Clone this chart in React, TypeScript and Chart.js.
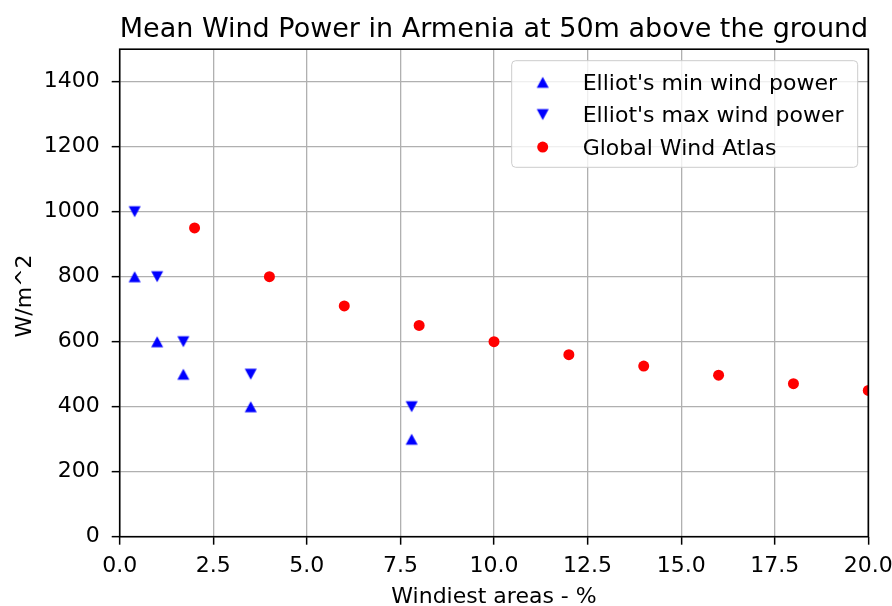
import React, { useEffect, useRef } from "react";
import { Chart, registerables } from "chart.js";

Chart.register(...registerables);

// ---- data ----
const elliotPct = [0.4, 1.0, 1.7, 3.5, 7.8];
const elliotMin = [800, 600, 500, 400, 300];
const elliotMax = [1000, 800, 600, 500, 400];
const gwaPct = [2, 4, 6, 8, 10, 12, 14, 16, 18, 20];
const gwaPower = [950, 800, 710, 650, 600, 560, 525, 497, 471, 450];
const seriesNames = ["Elliot's min wind power", "Elliot's max wind power", "Global Wind Atlas"];
const titleText = "Mean Wind Power in Armenia at 50m above the ground";
const xLabel = "Windiest areas - %";
const yLabel = "W/m^2";

const W = 892;
const H = 606;
const FONT = "DejaVu Sans";
const BLUE = "#0000ff";
const RED = "#ff0000";

function makeTriangle(up: boolean, color: string): HTMLCanvasElement {
  const c = document.createElement("canvas");
  c.width = 14;
  c.height = 14;
  const ctx = c.getContext("2d")!;
  ctx.fillStyle = color;
  ctx.beginPath();
  if (up) {
    ctx.moveTo(7, 1.5);
    ctx.lineTo(13, 12.5);
    ctx.lineTo(1, 12.5);
  } else {
    ctx.moveTo(7, 12.5);
    ctx.lineTo(13, 1.5);
    ctx.lineTo(1, 1.5);
  }
  ctx.closePath();
  ctx.fill();
  return c;
}

export default function App() {
  const ref = useRef<HTMLCanvasElement | null>(null);

  useEffect(() => {
    if (!ref.current) return;
    const triUp = makeTriangle(true, BLUE);
    const triDown = makeTriangle(false, BLUE);

    const decor = {
      id: "decor",
      afterDatasetsDraw(chart: any) {
        const { ctx, chartArea } = chart;
        const { left, right, top, bottom } = chartArea;
        ctx.save();
        // spines
        ctx.strokeStyle = "#000";
        ctx.lineWidth = 1.6;
        ctx.strokeRect(left, top, right - left, bottom - top);

        // legend
        const lx = 511.7, ly = 60.7, lw = 346, lh = 106.6;
        ctx.beginPath();
        ctx.roundRect(lx, ly, lw, lh, 4);
        ctx.fillStyle = "rgba(255,255,255,0.8)";
        ctx.fill();
        ctx.strokeStyle = "#cccccc";
        ctx.lineWidth = 1;
        ctx.stroke();

        const baselines = [90, 122.3, 154.8];
        const mx = 542.7;
        ctx.font = `22px "${FONT}"`;
        ctx.textAlign = "left";
        ctx.textBaseline = "alphabetic";
        baselines.forEach((b, i) => {
          const cy = b - 7.7;
          if (i === 0) ctx.drawImage(triUp, mx - 7, cy - 7);
          else if (i === 1) ctx.drawImage(triDown, mx - 7, cy - 7);
          else {
            ctx.beginPath();
            ctx.arc(mx, cy, 5.5, 0, Math.PI * 2);
            ctx.fillStyle = RED;
            ctx.fill();
          }
          ctx.fillStyle = "#000";
          ctx.fillText(seriesNames[i], 582.7, b);
        });

        // title
        const cx = (left + right) / 2;
        ctx.font = `27px "${FONT}"`;
        ctx.textAlign = "center";
        ctx.fillStyle = "#000";
        ctx.fillText(titleText, cx, 37.3);

        // axis labels
        ctx.font = `22px "${FONT}"`;
        ctx.fillText(xLabel, cx, 603);
        ctx.save();
        ctx.translate(31, (top + bottom) / 2 + 3);
        ctx.rotate(-Math.PI / 2);
        ctx.textAlign = "center";
        ctx.fillText(yLabel, 0, 0);
        ctx.restore();
        ctx.restore();
      },
    };

    const chart = new Chart(ref.current, {
      type: "scatter",
      data: {
        datasets: [
          {
            label: seriesNames[0],
            data: elliotPct.map((x, i) => ({ x, y: elliotMin[i] })),
            pointStyle: triUp as any,
            backgroundColor: BLUE,
            borderWidth: 0,
            clip: 0 as any,
          },
          {
            label: seriesNames[1],
            data: elliotPct.map((x, i) => ({ x, y: elliotMax[i] })),
            pointStyle: triDown as any,
            backgroundColor: BLUE,
            borderWidth: 0,
            clip: 0 as any,
          },
          {
            label: seriesNames[2],
            data: gwaPct.map((x, i) => ({ x, y: gwaPower[i] })),
            pointStyle: "circle",
            pointRadius: 5.5,
            backgroundColor: RED,
            borderWidth: 0,
            clip: 0 as any,
          },
        ],
      },
      options: {
        animation: false,
        responsive: false,
        devicePixelRatio: 1,
        layout: { padding: { top: 49.2, right: 23.7, left: 0, bottom: 0 } },
        plugins: {
          legend: { display: false },
          title: { display: false },
          tooltip: { enabled: false },
        },
        scales: {
          x: {
            type: "linear",
            min: 0,
            max: 20,
            border: { display: false },
            grid: {
              color: "#b0b0b0",
              lineWidth: 1.3,
              drawTicks: true,
              tickLength: 8,
              tickColor: "#000",
              tickWidth: 1.5,
            },
            ticks: {
              stepSize: 2.5,
              autoSkip: false,
              maxRotation: 0,
              includeBounds: false,
              padding: 8,
              color: "#000",
              font: { family: FONT, size: 22 },
              callback: (v: any) => Number(v).toFixed(1),
            },
            afterFit: (s: any) => {
              s.height = H - 536.7;
              s.paddingLeft = 0;
              s.paddingRight = 0;
            },
          },
          y: {
            type: "linear",
            min: 0,
            max: 1500,
            border: { display: false },
            grid: {
              color: "#b0b0b0",
              lineWidth: 1.3,
              drawTicks: true,
              tickLength: 8,
              tickColor: "#000",
              tickWidth: 1.5,
            },
            ticks: {
              stepSize: 200,
              autoSkip: false,
              includeBounds: false,
              padding: 12,
              color: "#000",
              font: { family: FONT, size: 22 },
              callback: (v: any) => String(v),
            },
            afterFit: (s: any) => {
              s.width = 119.7;
              s.paddingTop = 0;
              s.paddingBottom = 0;
            },
          },
        },
      },
      plugins: [decor],
    });
    return () => chart.destroy();
  }, []);

  return (
    <div style={{ position: "fixed", left: 0, top: 0, width: W, height: H, background: "#fff" }}>
      <canvas ref={ref} width={W} height={H} style={{ width: W, height: H, display: "block" }} />
    </div>
  );
}
